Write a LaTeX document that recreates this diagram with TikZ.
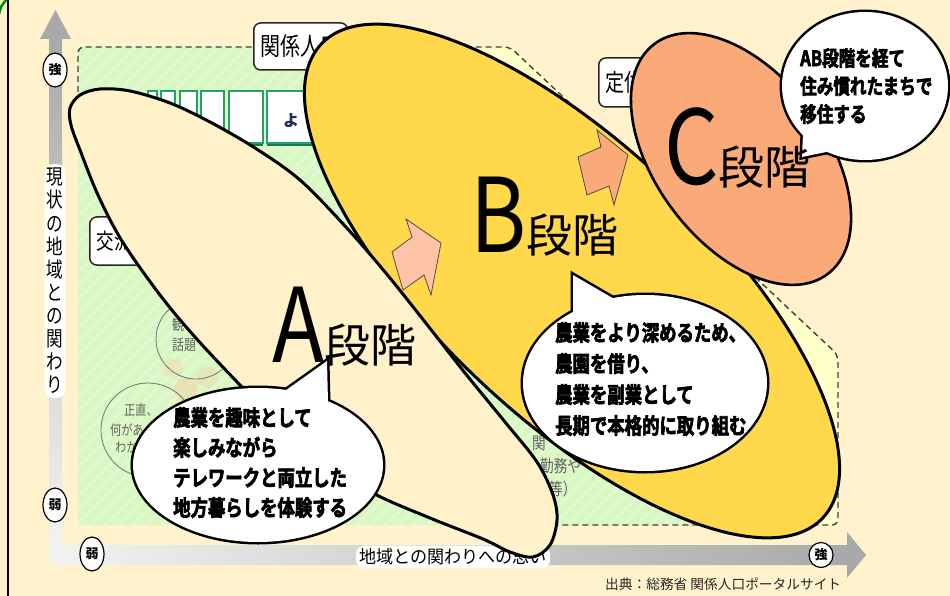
\documentclass[tikz,border=0pt]{standalone}
\usepackage{fontspec}
\newfontfamily\jp{Noto Sans CJK JP}
\newfontfamily\jpc[FakeStretch=0.79]{Noto Sans CJK JP}
\newfontfamily\jpb[FakeStretch=0.79, UprightFont=* Bold, FakeBold=3]{Noto Sans CJK JP}
\newfontfamily\jpl[FakeStretch=0.83]{Noto Sans CJK JP}
\newfontfamily\jpm[FakeStretch=0.8]{Noto Sans CJK JP}
\newfontfamily\jpx[FakeStretch=0.95]{Noto Sans CJK JP}
\usetikzlibrary{shapes.geometric}
\definecolor{bg}{HTML}{FFF2CC}
\definecolor{grn}{HTML}{D9F7C2}
\definecolor{grnst}{HTML}{E2F9D0}
\definecolor{pyel}{HTML}{FFFFC9}
\definecolor{afill}{HTML}{FFF2CA}
\definecolor{bfill}{HTML}{FFD94B}
\definecolor{cfill}{HTML}{F9AA78}
\definecolor{arrA}{HTML}{FFC4A6}
\definecolor{arrB}{HTML}{F9AA78}
\definecolor{axg}{HTML}{A9A9A9}
\definecolor{axl}{HTML}{F3F3F3}
\definecolor{boxgreen}{HTML}{22A06E}
\definecolor{navy}{HTML}{1F2D5C}
\definecolor{blobA}{HTML}{F6C9A0}
\definecolor{blobB}{HTML}{F2D9A8}
\begin{document}
\begin{tikzpicture}[x=1pt,y=-1pt,
  stage/.style={draw=black, line width=3pt},
  bubline/.style={draw=black, line width=5pt, line join=miter},
  bubtext/.style={align=left, anchor=north west, inner sep=0pt, text=black},
  axlab/.style={ellipse, draw=black, line width=1.2pt, fill=white, inner sep=0pt, font={\jp\bfseries\fontsize{13}{13}\selectfont}},
  bgbox/.style={draw=black!85, line width=1.5pt, fill=white, rounded corners=7pt, anchor=west, inner xsep=7pt, inner ysep=0pt},
  faint/.style={text=black!62, inner sep=0pt},
  arrowshape/.style={draw=black!70, line width=0.8pt, line join=miter},
  dashline/.style={draw=black!75, line width=1.4pt, dash pattern=on 6pt off 4pt, rounded corners=6pt},
  bigl/.style={inner sep=0pt, anchor=base west}
]
\useasboundingbox (0,0) rectangle (950,596);
\fill[bg] (0,0) rectangle (950,596);
% corner mark and left rule
\draw[green!55!black, line width=2.5pt] (-1,14) .. controls (1,6) .. (7,-1);
\draw[black, line width=2pt] (8,-1) -- (8,597);

% region of relation
\fill[pyel] (78,47) -- (508,47) -- (516,50) -- (838,355) -- (838,525) -- (78,525) -- cycle;
\fill[grn] (78,47) -- (460,47) -- (740,525) -- (78,525) -- cycle;
\begin{scope}
  \clip (78,47) -- (460,47) -- (740,525) -- (78,525) -- cycle;
  \foreach \i in {-40,...,56} \draw[grnst, line width=3.5pt] ({\i*14},560) -- ++(560,-560);
\end{scope}
\draw[dashline] (78,92) -- (78,47) -- (510,47) -- (838,355) -- (838,525) -- (540,525);

% background boxes
\node[bgbox, minimum height=47pt, font={\jpm\fontsize{25}{25}\selectfont}] (kankei) at (253,46.5) {関係人口};
\node[bgbox, minimum height=49pt, font={\jpm\fontsize{24}{24}\selectfont}] (teiju) at (598,82.5) {定住人口};
\node[bgbox, minimum height=48pt, font={\jpm\fontsize{22}{22}\selectfont}] (koryu) at (89,241) {交流人口};

\foreach \a/\b in {148/157,161/175,180/197,201/224,229/263,267/330} {
  \fill[boxgreen!75!black] (\a,92) rectangle (\b,146);
  \filldraw[draw=boxgreen, fill=white, line width=1.3pt] (\a,91) rectangle (\b,143);
}
\node[font={\jp\bfseries\fontsize{16}{16}\selectfont}, text=navy, inner sep=0pt] (yo) at (291,121) {よ};

% faint circles
\fill[blobB, opacity=.45] (173,368) circle (10);
\fill[blobA, opacity=.45] (186,389) circle (12);
\fill[blobA, opacity=.35] (207,377) circle (11);
\node[circle, draw=black!55, line width=0.8pt, minimum size=80pt, inner sep=0pt] (circA) at (196,339) {};
\node[circle, draw=black!55, line width=0.8pt, minimum size=94pt, inner sep=0pt] (circB) at (148,430) {};
\node[faint, anchor=west, font={\jpm\fontsize{15}{15}\selectfont}] (cAa) at (172,325) {観};
\node[faint, anchor=west, font={\jpm\fontsize{15}{15}\selectfont}] (cAb) at (172,345) {話題};
\node[faint, font={\jpm\fontsize{14}{14}\selectfont}] (cBa) at (141,410) {正直、};
\node[faint, anchor=west, font={\jpm\fontsize{14}{14}\selectfont}] (cBb) at (110,430) {何があ};
\node[faint, anchor=west, font={\jpm\fontsize{14}{14}\selectfont}] (cBc) at (115,447) {わか};
\node[faint, anchor=west, font={\jpm\fontsize{17}{17}\selectfont}] (tA) at (532,443) {関};
\node[faint, anchor=west, font={\jpm\fontsize{17}{17}\selectfont}] (tB) at (540,466) {勤務や};
\node[faint, anchor=west, font={\jpm\fontsize{17}{17}\selectfont}] (tC) at (549,489) {等）};

% axes
\shade[top color=axg, bottom color=axl] (49,37) rectangle (62,550);
\fill[axg] (55.5,10) -- (71,39) -- (40,39) -- cycle;
\shade[left color=axl, right color=axg] (49,545) -- (848,545) -- (848,565) {[rounded corners=7pt] -- (49,565) -- (49,540)} -- cycle;
\fill[axg] (866,555) -- (847,532) -- (847,578) -- cycle;
\node[fill=white, rounded corners=8pt, inner xsep=2pt, inner ysep=4pt, align=center, font={\jpc\fontsize{21}{23.1}\selectfont}] (ylab) at (55,281) {現\\状\\の\\地\\域\\と\\の\\関\\わ\\り};
\node[fill=white, rounded corners=8pt, inner sep=3pt, font={\jpx\fontsize{18}{18}\selectfont}] (xlab) at (453,557) {地域との関わりへの思い};
\node[axlab, minimum width=24pt, minimum height=34pt] (ystrong) at (55,70) {強};
\node[axlab, minimum width=24pt, minimum height=34pt] (yweak) at (55,505) {弱};
\node[axlab, minimum width=24pt, minimum height=34pt] (xweak) at (92,554) {弱};
\node[axlab, minimum width=24pt, minimum height=25pt] (xstrong) at (821,555) {強};

% stages
\filldraw[stage, fill=bfill, rotate around={-43.4:(572,281)}] (572,281) ellipse [x radius=345pt, y radius=136pt];
\filldraw[stage, fill=afill] plot[smooth cycle, tension=0.55] coordinates {
  (70,108) (80,95) (100,89) (130,91) (170,103) (210,122) (255,148) (300,180)
  (345,226) (385,272) (425,322) (465,373) (505,422) (537,462) (553,495) (557,520)
  (550,545) (533,557) (510,552) (483,539) (430,518) (373,493) (320,458) (280,425)
  (240,385) (195,337) (160,295) (122,241) (98,195) (80,150) (71,125)};
\filldraw[stage, line width=2.6pt, fill=cfill, rotate around={-53:(741,159)}] (741,159) ellipse [x radius=144pt, y radius=85pt];

% bubbles
\draw[bubline] (258,465) ellipse [x radius=125pt, y radius=77pt];
\draw[bubline] (282,393) -- (327,361) -- (328,402);
\fill[white] (258,465) ellipse [x radius=125pt, y radius=77pt];
\fill[white] (282,393) -- (327,361) -- (328,402) -- cycle;

\draw[bubline] (645,383) ellipse [x radius=122pt, y radius=88pt];
\draw[bubline] (573,316) -- (573,275) -- (616,300);
\fill[white] (645,383) ellipse [x radius=122pt, y radius=88pt];
\fill[white] (573,316) -- (573,275) -- (616,300) -- cycle;

\draw[bubline] (865,86) ellipse [x radius=83pt, y radius=74pt];
\draw[bubline] (803,133) -- (802,157) -- (836,150);
\fill[white] (865,86) ellipse [x radius=83pt, y radius=74pt];
\fill[white] (803,133) -- (802,157) -- (836,150) -- cycle;

\node[bubtext, font={\jpb\fontsize{22}{30}\selectfont}] (txtA) at (173,407) {農業を趣味として\\楽しみながら\\テレワークと両立した\\地方暮らしを体験する};
\node[bubtext, font={\jpb\fontsize{22}{31}\selectfont}] (txtB) at (555,322) {農業をより深めるため、\\農園を借り、\\農業を副業として\\長期で本格的に取り組む};
\node[bubtext, font={\jpb\fontsize{21}{28}\selectfont}] (txtC) at (800,48) {AB段階を経て\\住み慣れたまちで\\移住する};

% arrows
\filldraw[arrowshape, fill=arrA] (406,219) -- (412,237) -- (392,252) -- (403,290) -- (424,275) -- (431,295) -- (441,243) -- cycle;
\filldraw[arrowshape, fill=arrB] (597,130) -- (601,147) -- (578,157) -- (587,195) -- (609,186) -- (614,205) -- (628,155) -- cycle;

% big labels
\node[bigl] (labA) at (272,362) {{\jpl\fontsize{103}{103}\selectfont A}{\jp\fontsize{46}{46}\selectfont 段階}};
\node[bigl] (labB) at (470,252) {{\jpl\fontsize{103}{103}\selectfont B}{\jp\fontsize{46}{46}\selectfont 段階}};
\node[bigl] (labC) at (664,185) {{\jpl\fontsize{103}{103}\selectfont C}{\jp\fontsize{46}{46}\selectfont 段階}};

\node[anchor=west, inner sep=0pt, font={\jp\fontsize{13.7}{13.7}\selectfont}, text=black!85] (src) at (605,584) {出典：総務省 関係人口ポータルサイト};
\end{tikzpicture}
\end{document}
